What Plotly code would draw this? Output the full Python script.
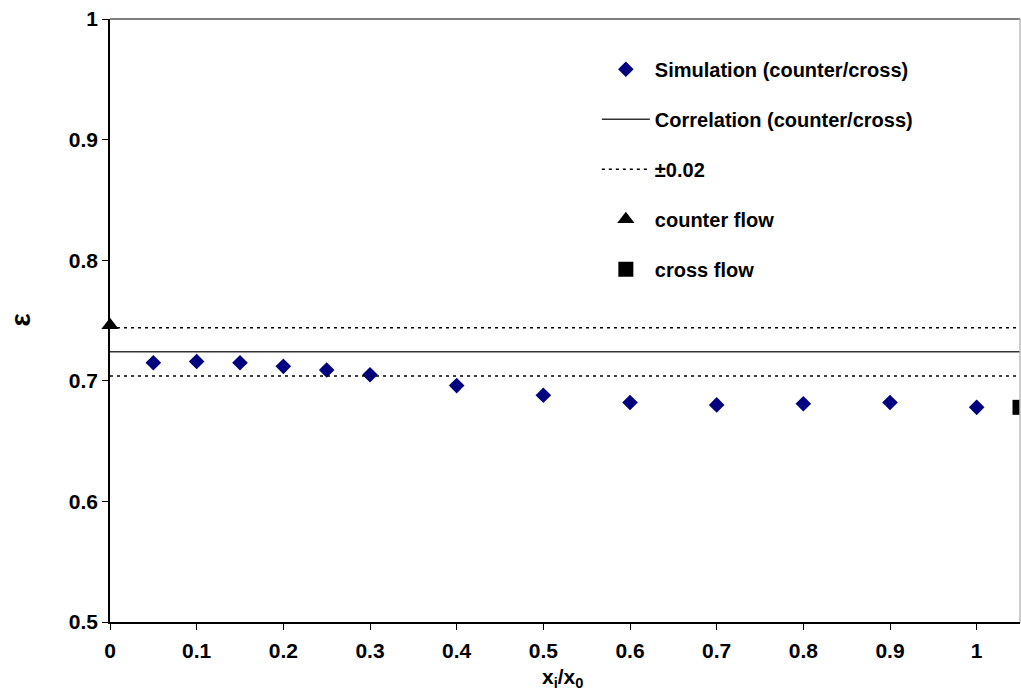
import plotly.graph_objects as go

# Effectiveness vs. position ratio
sim_x = [0.05, 0.1, 0.15, 0.2, 0.25, 0.3, 0.4, 0.5, 0.6, 0.7, 0.8, 0.9, 1.0]
sim_eps = [0.715, 0.716, 0.715, 0.712, 0.709, 0.705, 0.696, 0.688, 0.682, 0.680, 0.681, 0.682, 0.678]

corr_x = [0, 1.05]
corr_eps = 0.724
band = 0.02

counter_x = [0]
counter_eps = [0.746]
cross_x = [1.05]
cross_eps = [0.678]

x_ticks = [0, 0.1, 0.2, 0.3, 0.4, 0.5, 0.6, 0.7, 0.8, 0.9, 1.0]
y_ticks = [0.5, 0.6, 0.7, 0.8, 0.9, 1.0]

FONT = "Liberation Sans, Arial, sans-serif"
TICKFONT = dict(family=FONT, size=21, color="black", weight="bold")

fig = go.Figure()

fig.add_trace(go.Scatter(
    x=sim_x, y=sim_eps, mode="markers", name="Simulation (counter/cross)",
    marker=dict(symbol="diamond", size=12, color="#000080"),
    legendgroup="a",
))
fig.add_trace(go.Scatter(
    x=corr_x, y=[corr_eps] * 2, mode="lines", name="Correlation (counter/cross)",
    line=dict(color="#333333", width=1.5), legendgroup="b",
))
fig.add_trace(go.Scatter(
    x=corr_x, y=[corr_eps + band] * 2, mode="lines", name="±0.02",
    line=dict(color="black", width=1.5, dash="3px,4px"), legendgroup="c",
))
fig.add_trace(go.Scatter(
    x=corr_x, y=[corr_eps - band] * 2, mode="lines", name="±0.02",
    line=dict(color="black", width=1.5, dash="3px,4px"), legendgroup="c",
    showlegend=False,
))
fig.add_trace(go.Scatter(
    x=counter_x, y=counter_eps, mode="markers", name="counter flow",
    marker=dict(symbol="triangle-up", size=15, color="black"),
    legendgroup="d", cliponaxis=False,
))
fig.add_trace(go.Scatter(
    x=cross_x, y=cross_eps, mode="markers", name="cross flow",
    marker=dict(symbol="square", size=15, color="black"),
    legendgroup="e",
))

fig.update_layout(
    width=1021, height=692,
    margin=dict(l=110, r=1, t=19, b=70),
    plot_bgcolor="white", paper_bgcolor="white",
    font=dict(family=FONT, size=20, color="black", weight="bold"),
    showlegend=True,
    legend=dict(
        x=0.535, y=0.949, xanchor="left", yanchor="top",
        bgcolor="rgba(0,0,0,0)", font=dict(size=20, weight="bold"),
        tracegroupgap=21, itemsizing="trace", itemwidth=48,
    ),
    xaxis=dict(
        range=[0, 1.05], tickvals=x_ticks, ticktext=[f"{v:g}" for v in x_ticks],
        tickfont=TICKFONT, ticklabelstandoff=3,
        showgrid=False, zeroline=False, showline=True, linecolor="black", linewidth=1.5,
        ticks="outside", ticklen=6, tickcolor="black", tickwidth=1,
    ),
    yaxis=dict(
        range=[0.5, 1.0], tickvals=y_ticks, ticktext=[f"{v:g}" for v in y_ticks],
        tickfont=TICKFONT,
        showgrid=False, zeroline=False, showline=True, linecolor="black", linewidth=1.5,
        ticks="outside", ticklen=6, tickcolor="black", tickwidth=1,
    ),
    annotations=[
        # axis titles
        dict(text="x<sub>i</sub>/x<sub>0</sub>", xref="paper", yref="paper",
             x=0.497, y=-0.093, xanchor="center", yanchor="middle", showarrow=False,
             font=dict(size=21, weight="bold")),
        dict(text="ε", xref="paper", yref="paper", textangle=-90,
             x=-0.0988, y=0.5, xanchor="center", yanchor="middle", showarrow=False,
             font=dict(size=28, weight="bold")),
    ],
    shapes=[
        dict(type="line", xref="paper", yref="paper", x0=0, x1=1, y0=1, y1=1,
             line=dict(color="#555555", width=1.5)),
        dict(type="line", xref="paper", yref="paper", x0=1, x1=1, y0=0, y1=1,
             line=dict(color="#bbbbbb", width=1.5)),
    ],
)

fig.write_html("out.html")
